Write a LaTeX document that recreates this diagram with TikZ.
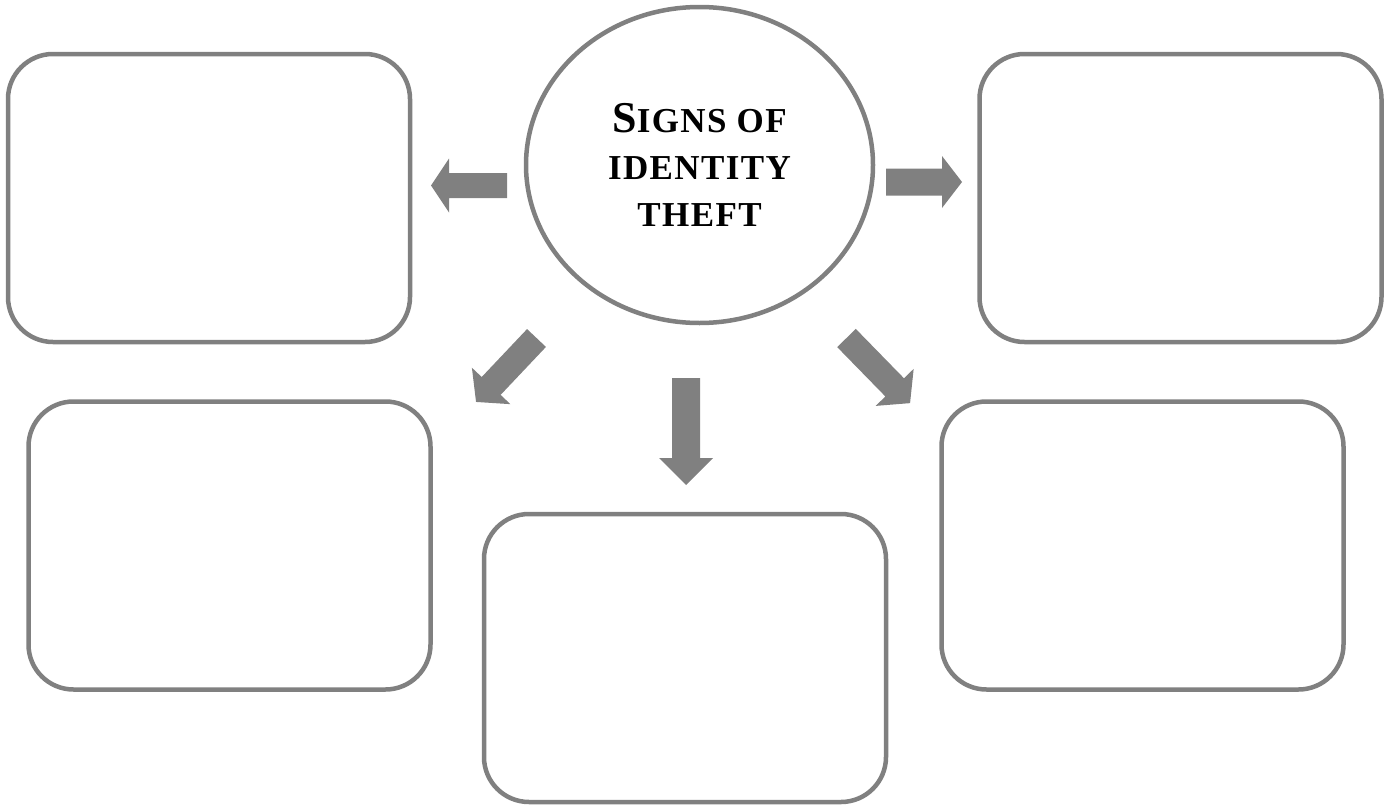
\documentclass[tikz,border=0pt]{standalone}
\usepackage{fontspec}
\setmainfont{Liberation Serif}
\newfontfamily\titlefont[LetterSpace=4]{Liberation Serif}
\usetikzlibrary{shapes.geometric}
\definecolor{framegray}{HTML}{808080}
\tikzset{
  box/.style={draw=framegray, line width=4.5pt, rounded corners=45pt,
    minimum width=402pt, minimum height=288pt, inner sep=0pt},
  hub/.style={draw=framegray, line width=4.5pt, ellipse, inner sep=0pt,
    minimum width=347pt, minimum height=316pt, align=center,
    font=\titlefont\bfseries\fontsize{35}{47}\selectfont},
  pics/blockarrow/.style n args={4}{code={
    \fill[framegray] (0,-#2) -- (#1-#3,-#2) -- (#1-#3,-#4) -- (#1,0)
      -- (#1-#3,#4) -- (#1-#3,#2) -- (0,#2) -- cycle;}}
}
\newcommand{\bigS}{{\fontsize{44}{47}\selectfont S}}
\begin{document}
\begin{tikzpicture}[x=1pt,y=-1pt]
\useasboundingbox (0,0) rectangle (1390,806);
\fill[white] (0,0) rectangle (1390,806);
% central circle
\node[hub] (hub) at (699.5,165) {\bigS IGNS OF\\IDENTITY\\THEFT};
% boxes
\node[box] (tl) at (209,198) {};
\node[box] (tr) at (1180.5,198) {};
\node[box] (ml) at (229.5,545.5) {};
\node[box] (mr) at (1142.5,545.5) {};
\node[box] (bot) at (685,658) {};
% block arrows
\pic[rotate=180] at (507,185.5) {blockarrow={76}{12.5}{18}{27}};
\pic at (886,182) {blockarrow={76}{13.5}{20}{26}};
\pic[rotate=-90] at (686,378) {blockarrow={107}{14}{27}{27}};
\pic[rotate=-133.4] at (536.5,338) {blockarrow={88}{13}{22}{26.5}};
\pic[rotate=-45.7] at (846.5,338) {blockarrow={91}{13}{22}{26.5}};
\end{tikzpicture}
\end{document}
